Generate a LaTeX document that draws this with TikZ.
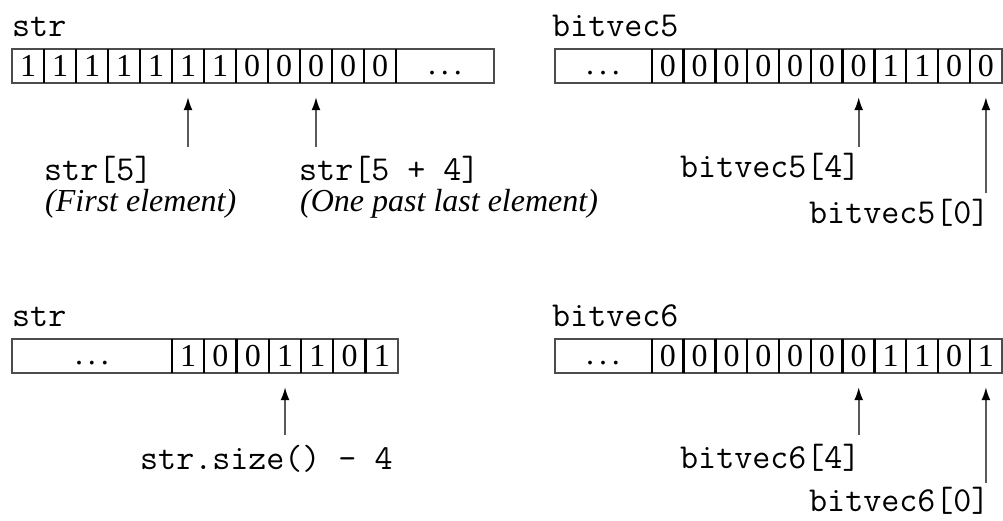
\documentclass[tikz,border=0pt]{standalone}
\usepackage{fontspec}
\setmainfont{Liberation Serif}
\usepackage{tikz}
\usetikzlibrary{arrows.meta}

\newcommand{\wideddd}{.\hspace{5pt}.\hspace{5pt}.}

\begin{document}
\begin{tikzpicture}[x=1pt, y=-1pt,
  cell/.style={minimum width=32pt, minimum height=34pt, inner sep=0, font=\fontsize{32}{36}\selectfont},
  dots/.style={anchor=base, inner sep=0, font=\fontsize{32}{36}\selectfont},
  frame/.style={draw=black!70, line width=1.8pt},
  sep/.style={draw=black, line width=2.3pt},
  code/.style={anchor=base west, inner sep=0, font=\ttfamily\fontsize{35}{40}\selectfont},
  note/.style={anchor=base west, inner sep=0, font=\itshape\fontsize{32}{36}\selectfont},
  ptr/.style={-{Latex[length=13pt,width=9pt,color=black]}, draw=black!65, line width=1.6pt, shorten >=14pt}]
\useasboundingbox (0,0) rectangle (1003,520);

% str, top left
\node[code] (strA) at (12,36) {str};
\draw[frame] (12,49) rectangle (494,83);
\foreach \d [count=\i] in {1,1,1,1,1,1,1,0,0,0,0,0}
  \node[cell] (a\i) at (12+32*\i-16,66) {\d};
\foreach \i in {1,...,12}
  \draw[sep] (a\i.north east) -- (a\i.south east);
\node[dots] (adots) at (445,74) {\wideddd};

% bitvec5, top right
\node[code] (bvA) at (552,36) {bitvec5};
\draw[frame] (555,49) rectangle (1002,83);
\foreach \d [count=\i] in {0,0,0,0,0,0,0,1,1,0,0}
  \node[cell, minimum width=31.8pt] (b\i) at (652+31.8*\i-15.9,66) {\d};
\foreach \i in {1,...,11}
  \draw[sep] (b\i.north west) -- (b\i.south west);
\node[dots] (bdots) at (603,74) {\wideddd};

% str, bottom left
\node[code] (strB) at (12,326) {str};
\draw[frame] (12,339) rectangle (398,373);
\foreach \d [count=\i] in {1,0,0,1,1,0,1}
  \node[cell, minimum width=32.3pt] (c\i) at (172+32.3*\i-16.15,356) {\d};
\foreach \i in {1,...,7}
  \draw[sep] (c\i.north west) -- (c\i.south west);
\node[dots] (cdots) at (92,364) {\wideddd};

% bitvec6, bottom right
\node[code] (bvB) at (552,326) {bitvec6};
\draw[frame] (555,339) rectangle (1002,373);
\foreach \d [count=\i] in {0,0,0,0,0,0,0,1,1,0,1}
  \node[cell, minimum width=31.8pt] (d\i) at (652+31.8*\i-15.9,356) {\d};
\foreach \i in {1,...,11}
  \draw[sep] (d\i.north west) -- (d\i.south west);
\node[dots] (ddots) at (603,364) {\wideddd};

% pointer tails
\coordinate (ta1) at (a6 |- 0,147);
\coordinate (ta2) at (a10 |- 0,147);
\coordinate (tb1) at (b7 |- 0,147);
\coordinate (tb2) at (b11 |- 0,193);
\coordinate (tc1) at (c4 |- 0,435);
\coordinate (td1) at (d7 |- 0,435);
\coordinate (td2) at (d11 |- 0,483);

\draw[ptr] (ta1) -- (a6.south);
\draw[ptr] (ta2) -- (a10.south);
\draw[ptr] (tb1) -- (b7.south);
\draw[ptr] (tb2) -- (b11.south);
\draw[ptr] (tc1) -- (c4.south);
\draw[ptr] (td1) -- (d7.south);
\draw[ptr] (td2) -- (d11.south);

% labels
\node[code] (first) at (44,180) {str[5]};
\node[note] (firstnote) at (45,211) {(First element)};
\node[code] (past) at (299,180) {str[5 + 4]};
\node[note] (pastnote) at (300,211) {(One past last element)};
\node[code] (bv5four) at (680,177) {bitvec5[4]};
\node[code] (bv5zero) at (809,223) {bitvec5[0]};
\node[code] (sizelbl) at (140,469) {str.size() - 4};
\node[code] (bv6four) at (680,468) {bitvec6[4]};
\node[code] (bv6zero) at (809,511) {bitvec6[0]};
\end{tikzpicture}
\end{document}
